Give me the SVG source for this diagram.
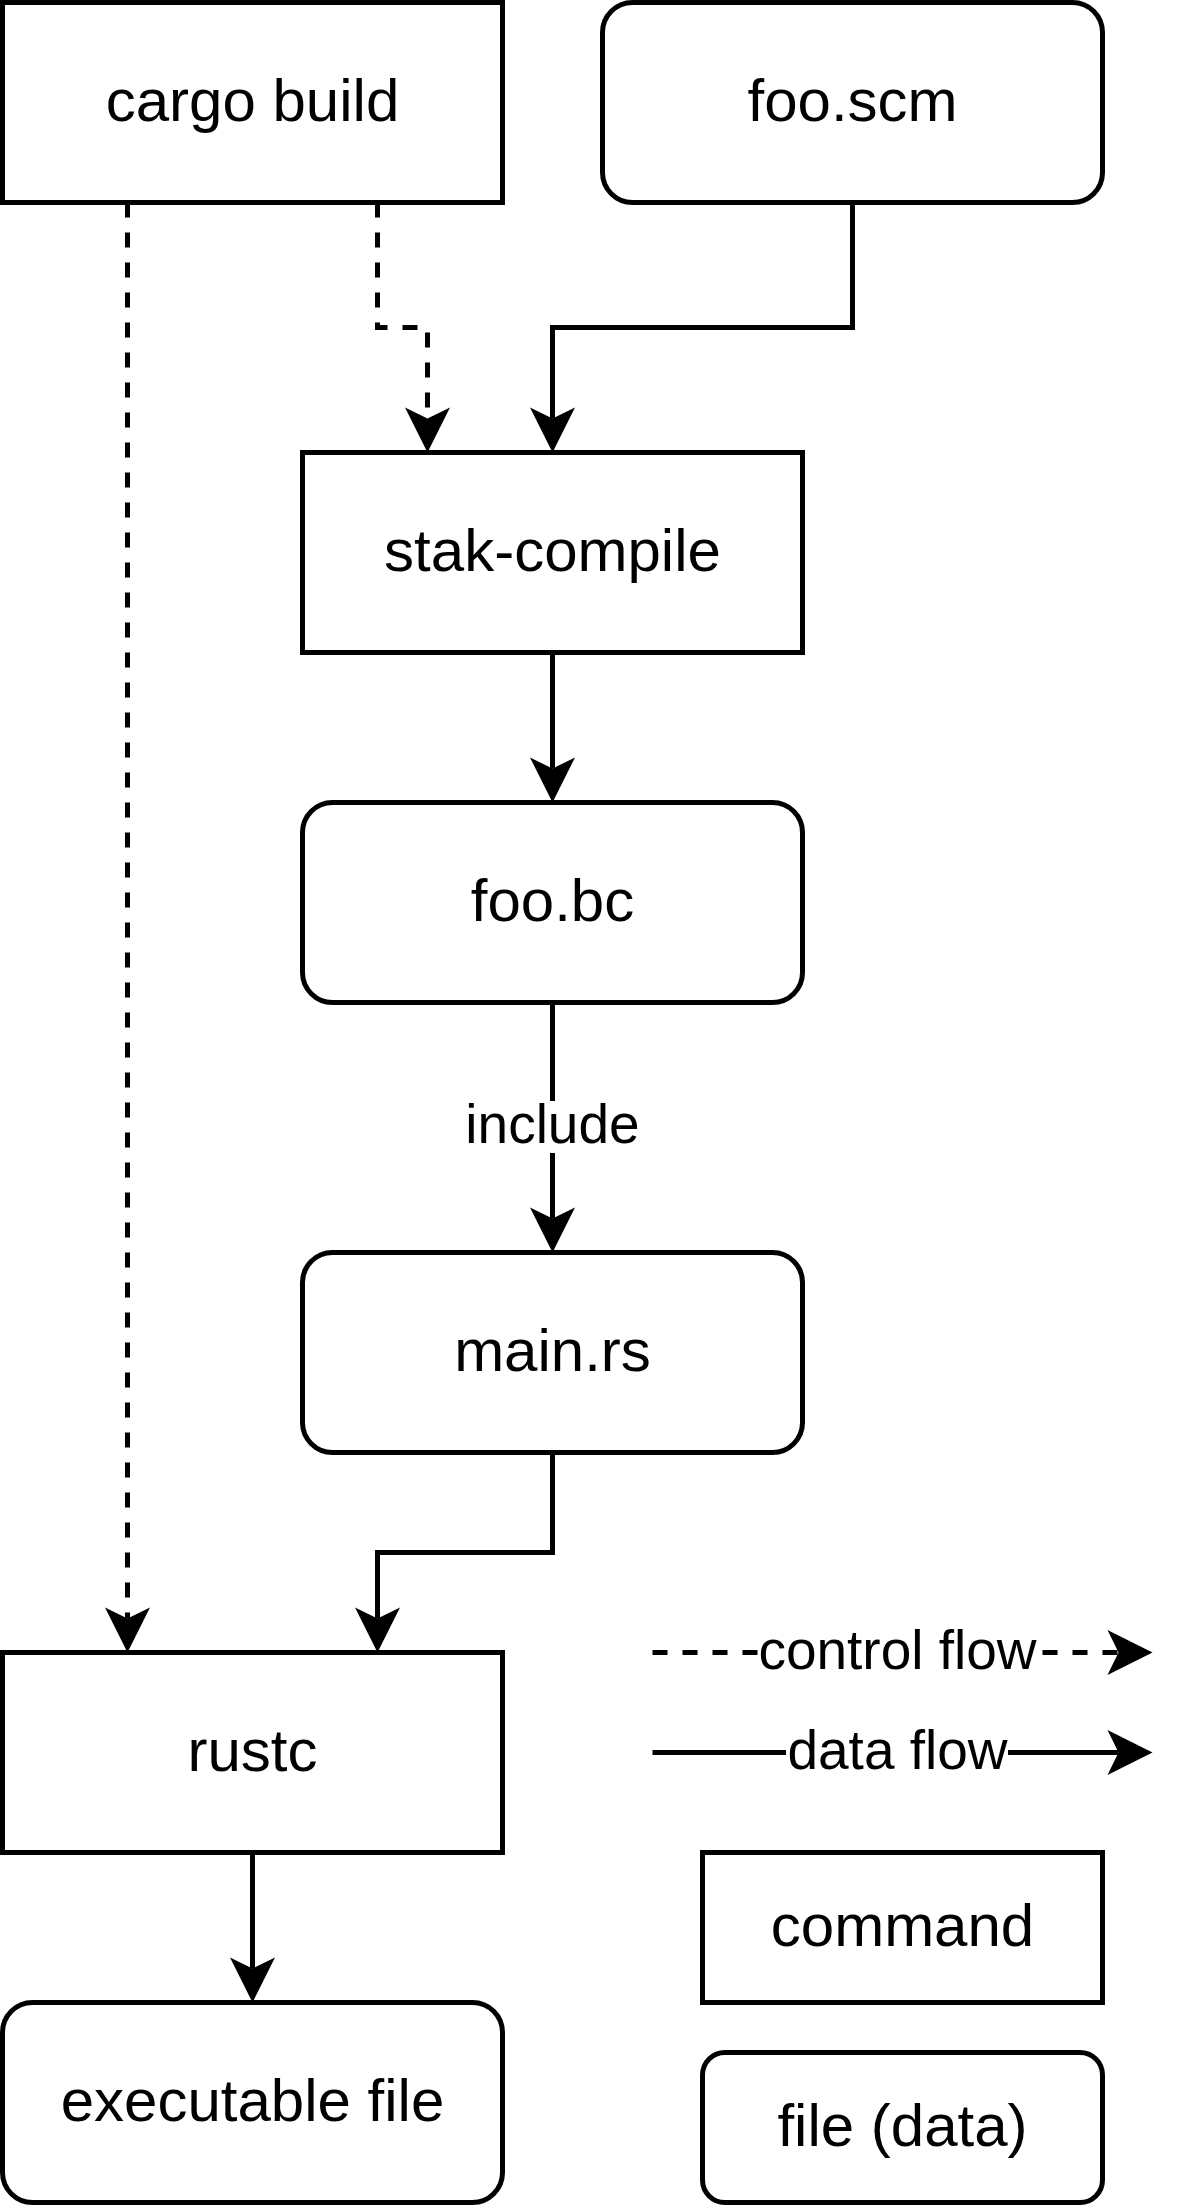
<svg xmlns="http://www.w3.org/2000/svg" width="1195" height="2205" viewBox="0 0 1195 2205">
<style>
  .box { fill: #ffffff; stroke: #000000; stroke-width: 5; }
  .lbl { font-family: "Liberation Sans", Arial, Helvetica, sans-serif; font-size: 60px; fill: #000000; text-anchor: middle; }
  .elbl { font-family: "Liberation Sans", Arial, Helvetica, sans-serif; font-size: 55px; fill: #000000; text-anchor: middle; }
  .edge { fill: none; stroke: #000000; stroke-width: 5; marker-end: url(#arr); }
  .dash { stroke-dasharray: 15 15; }
  .bg { fill: #ffffff; stroke: none; }
</style>
<defs>
  <marker id="arr" markerUnits="userSpaceOnUse" markerWidth="60" markerHeight="60" refX="0" refY="0" orient="auto" overflow="visible">
    <path d="M34,0 L-11,-22.5 L0,0 L-11,22.5 Z" fill="#000000" stroke="none"/>
  </marker>
</defs>
<rect width="1195" height="2205" fill="#ffffff"/>

<g id="connectors">
  <path class="edge dash" d="M127.5,202.5 V1618.5"/>
  <path class="edge dash" d="M377.5,202.5 V327.5 H427.5 V418.5"/>
  <path class="edge" d="M852.5,202.5 V327.5 H552.5 V418.5"/>
  <path class="edge" d="M552.5,652.5 V768.5"/>
  <path class="edge" d="M552.5,1002.5 V1218.5"/>
  <rect class="bg" x="465" y="1101" width="175" height="52"/>
  <text class="elbl" x="552.5" y="1143">include</text>
  <path class="edge" d="M552.5,1452.5 V1552.5 H377.5 V1618.5"/>
  <path class="edge" d="M252.5,1852.5 V1968.5"/>
  <path class="edge dash" d="M652.5,1652.5 H1118.5"/>
  <rect class="bg" x="759" y="1626" width="277" height="52"/>
  <text class="elbl" x="897.5" y="1669">control flow</text>
  <path class="edge" d="M652.5,1752.5 H1118.5"/>
  <rect class="bg" x="786" y="1726" width="222" height="52"/>
  <text class="elbl" x="897.5" y="1769">data flow</text>
</g>

<g id="cargo-build">
  <rect class="box" x="2.5" y="2.5" width="500" height="200"/>
  <text class="lbl" x="252.5" y="120.5">cargo build</text>
</g>
<g id="foo-scm">
  <rect class="box" x="602.5" y="2.5" width="500" height="200" rx="30" ry="30"/>
  <text class="lbl" x="852.5" y="120.5">foo.scm</text>
</g>
<g id="stak-compile">
  <rect class="box" x="302.5" y="452.5" width="500" height="200"/>
  <text class="lbl" x="552.5" y="570.5">stak-compile</text>
</g>
<g id="foo-bc">
  <rect class="box" x="302.5" y="802.5" width="500" height="200" rx="30" ry="30"/>
  <text class="lbl" x="552.5" y="920.5">foo.bc</text>
</g>
<g id="main-rs">
  <rect class="box" x="302.5" y="1252.5" width="500" height="200" rx="30" ry="30"/>
  <text class="lbl" x="552.5" y="1370.5">main.rs</text>
</g>
<g id="rustc">
  <rect class="box" x="2.5" y="1652.5" width="500" height="200"/>
  <text class="lbl" x="252.5" y="1770.5">rustc</text>
</g>
<g id="executable-file">
  <rect class="box" x="2.5" y="2002.5" width="500" height="200" rx="30" ry="30"/>
  <text class="lbl" x="252.5" y="2120.5">executable file</text>
</g>
<g id="legend-command">
  <rect class="box" x="702.5" y="1852.5" width="400" height="150"/>
  <text class="lbl" x="902.5" y="1945.5">command</text>
</g>
<g id="legend-file">
  <rect class="box" x="702.5" y="2052.5" width="400" height="150" rx="22.5" ry="22.5"/>
  <text class="lbl" x="902.5" y="2145.5">file (data)</text>
</g>
</svg>
